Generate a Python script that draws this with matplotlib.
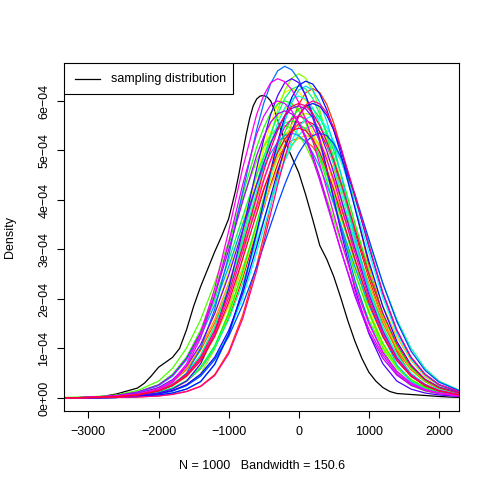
import colorsys

import matplotlib
matplotlib.use("Agg")
import matplotlib.pyplot as plt
import numpy as np
from matplotlib.patches import Rectangle

plt.rcParams["font.family"] = ["Liberation Sans", "DejaVu Sans"]

# density values are given in units of 1e-4
SCALE = 1e-4

# sampling distribution (black curve)
sampling_x = [-3400, -3000, -2800, -2600, -2400, -2300, -2200, -2100, -2000, -1900,
              -1800, -1700, -1600, -1500, -1400, -1300, -1200, -1100, -1000, -900,
              -850, -800, -750, -700, -650, -600, -550, -500, -450, -400,
              -350, -300, -250, -200, -100, 0, 100, 200, 300, 400,
              500, 600, 700, 800, 900, 1000, 1100, 1200, 1300, 1400,
              1600, 1800, 2000, 2200, 2400]
sampling_y = [0.00, 0.01, 0.03, 0.08, 0.16, 0.20, 0.30, 0.45, 0.62, 0.72,
              0.82, 1.00, 1.38, 1.85, 2.25, 2.60, 2.95, 3.27, 3.62, 4.20,
              4.55, 4.95, 5.32, 5.65, 5.90, 6.04, 6.10, 6.11, 6.08, 6.00,
              5.83, 5.62, 5.40, 5.20, 4.87, 4.55, 4.10, 3.60, 3.08, 2.80,
              2.45, 2.02, 1.56, 1.15, 0.80, 0.52, 0.34, 0.21, 0.13, 0.09,
              0.07, 0.05, 0.03, 0.015, 0.01]

# bootstrap densities (coloured curves), all on one grid
boot_x = [-3400, -3000, -2600, -2300, -2000, -1800, -1600, -1400, -1200, -1000,
          -800, -600, -500, -400, -300, -200, -100, 0, 100, 200,
          300, 400, 500, 600, 800, 1000, 1200, 1400, 1600, 1800,
          2000, 2300, 2600]

boot_00 = [0.00, 0.00, 0.02, 0.04, 0.11, 0.19, 0.34, 0.59, 1.00, 1.61,
           2.42, 3.36, 3.84, 4.31, 4.73, 5.10, 5.38, 5.54, 5.60, 5.54,
           5.38, 5.10, 4.73, 4.31, 3.36, 2.42, 1.61, 1.00, 0.59, 0.34,
           0.19, 0.08, 0.03]
boot_01 = [0.00, 0.00, 0.01, 0.02, 0.04, 0.08, 0.13, 0.24, 0.47, 0.93,
           1.67, 2.68, 3.27, 3.88, 4.49, 5.06, 5.55, 5.93, 6.17, 6.25,
           6.17, 5.93, 5.55, 5.06, 3.88, 2.68, 1.67, 0.93, 0.47, 0.24,
           0.13, 0.06, 0.03]
boot_02 = [0.00, 0.01, 0.03, 0.08, 0.19, 0.33, 0.57, 0.96, 1.51, 2.21,
           3.02, 3.84, 4.23, 4.57, 4.86, 5.07, 5.20, 5.25, 5.20, 5.07,
           4.86, 4.57, 4.23, 3.84, 3.02, 2.21, 1.51, 0.96, 0.57, 0.33,
           0.19, 0.08, 0.03]
boot_03 = [0.00, 0.01, 0.03, 0.08, 0.20, 0.34, 0.60, 1.01, 1.58, 2.32,
           3.16, 4.03, 4.43, 4.79, 5.09, 5.31, 5.45, 5.50, 5.45, 5.31,
           5.09, 4.79, 4.43, 4.03, 3.16, 2.32, 1.58, 1.01, 0.60, 0.34,
           0.20, 0.08, 0.03]
boot_04 = [0.00, 0.01, 0.02, 0.06, 0.14, 0.25, 0.43, 0.76, 1.23, 1.86,
           2.63, 3.47, 3.88, 4.27, 4.62, 4.90, 5.12, 5.25, 5.30, 5.25,
           5.12, 4.90, 4.62, 4.27, 3.47, 2.63, 1.86, 1.23, 0.76, 0.43,
           0.25, 0.11, 0.04]
boot_05 = [0.00, 0.01, 0.02, 0.04, 0.10, 0.18, 0.33, 0.67, 1.26, 2.14,
           3.27, 4.49, 5.06, 5.55, 5.93, 6.17, 6.25, 6.19, 6.00, 5.69,
           5.28, 4.81, 4.28, 3.75, 2.70, 1.80, 1.11, 0.66, 0.38, 0.21,
           0.13, 0.05, 0.02]
boot_06 = [0.00, 0.01, 0.04, 0.09, 0.20, 0.35, 0.62, 1.05, 1.70, 2.55,
           3.54, 4.54, 4.99, 5.37, 5.66, 5.84, 5.90, 5.84, 5.66, 5.37,
           4.99, 4.54, 4.04, 3.54, 2.55, 1.70, 1.05, 0.62, 0.35, 0.20,
           0.12, 0.05, 0.02]
boot_07 = [0.00, 0.00, 0.02, 0.05, 0.12, 0.20, 0.35, 0.60, 1.02, 1.66,
           2.48, 3.45, 3.94, 4.43, 4.86, 5.23, 5.52, 5.69, 5.75, 5.69,
           5.52, 5.23, 4.86, 4.43, 3.45, 2.48, 1.66, 1.02, 0.60, 0.35,
           0.20, 0.09, 0.03]
boot_08 = [0.00, 0.01, 0.02, 0.04, 0.08, 0.14, 0.25, 0.49, 0.98, 1.75,
           2.81, 4.07, 4.71, 5.30, 5.82, 6.21, 6.46, 6.55, 6.46, 6.21,
           5.82, 5.30, 4.71, 4.07, 2.81, 1.75, 0.98, 0.49, 0.25, 0.14,
           0.08, 0.04, 0.02]
boot_09 = [0.01, 0.02, 0.06, 0.15, 0.34, 0.60, 1.01, 1.58, 2.32, 3.16,
           4.03, 4.79, 5.09, 5.31, 5.45, 5.50, 5.45, 5.31, 5.09, 4.79,
           4.43, 4.03, 3.60, 3.16, 2.32, 1.58, 1.01, 0.60, 0.34, 0.20,
           0.11, 0.04, 0.02]
boot_10 = [0.00, 0.01, 0.05, 0.12, 0.27, 0.48, 0.83, 1.37, 2.13, 3.09,
           4.11, 5.07, 5.46, 5.76, 5.94, 6.00, 5.95, 5.80, 5.55, 5.23,
           4.83, 4.39, 3.92, 3.45, 2.53, 1.73, 1.10, 0.65, 0.37, 0.22,
           0.12, 0.05, 0.02]
boot_11 = [0.00, 0.00, 0.02, 0.05, 0.12, 0.20, 0.35, 0.62, 1.05, 1.70,
           2.55, 3.54, 4.04, 4.54, 4.99, 5.37, 5.66, 5.84, 5.90, 5.84,
           5.66, 5.37, 4.99, 4.54, 3.54, 2.55, 1.70, 1.05, 0.62, 0.35,
           0.20, 0.09, 0.04]
boot_12 = [0.00, 0.01, 0.04, 0.11, 0.26, 0.46, 0.80, 1.30, 1.97, 2.78,
           3.66, 4.51, 4.88, 5.18, 5.41, 5.55, 5.60, 5.55, 5.41, 5.18,
           4.88, 4.51, 4.10, 3.66, 2.78, 1.97, 1.30, 0.80, 0.46, 0.26,
           0.15, 0.06, 0.03]
boot_13 = [0.00, 0.01, 0.03, 0.07, 0.16, 0.28, 0.50, 0.87, 1.44, 2.24,
           3.24, 4.32, 4.85, 5.32, 5.73, 6.05, 6.24, 6.30, 6.24, 6.05,
           5.73, 5.32, 4.85, 4.32, 3.24, 2.24, 1.44, 0.87, 0.50, 0.28,
           0.16, 0.07, 0.03]
boot_14 = [0.00, 0.01, 0.02, 0.04, 0.11, 0.20, 0.34, 0.60, 1.01, 1.58,
           2.32, 3.16, 3.60, 4.03, 4.43, 4.79, 5.09, 5.31, 5.45, 5.50,
           5.45, 5.31, 5.09, 4.79, 4.03, 3.16, 2.32, 1.58, 1.01, 0.60,
           0.34, 0.15, 0.06]
boot_15 = [0.00, 0.01, 0.03, 0.07, 0.16, 0.27, 0.49, 0.84, 1.39, 2.17,
           3.14, 4.18, 4.70, 5.15, 5.55, 5.86, 6.04, 6.10, 6.04, 5.86,
           5.55, 5.15, 4.70, 4.18, 3.14, 2.17, 1.39, 0.84, 0.49, 0.27,
           0.16, 0.07, 0.03]
boot_16 = [0.00, 0.00, 0.01, 0.03, 0.09, 0.15, 0.26, 0.46, 0.79, 1.30,
           2.02, 2.94, 3.42, 3.90, 4.39, 4.82, 5.19, 5.47, 5.64, 5.70,
           5.64, 5.47, 5.19, 4.82, 3.90, 2.94, 2.02, 1.30, 0.79, 0.46,
           0.26, 0.11, 0.05]
boot_17 = [0.00, 0.00, 0.01, 0.03, 0.06, 0.10, 0.18, 0.33, 0.67, 1.27,
           2.16, 3.29, 3.91, 4.53, 5.10, 5.59, 5.97, 6.22, 6.30, 6.22,
           5.97, 5.59, 5.10, 4.53, 3.29, 2.16, 1.27, 0.67, 0.33, 0.18,
           0.10, 0.04, 0.02]
boot_18 = [0.00, 0.01, 0.04, 0.11, 0.25, 0.44, 0.77, 1.24, 1.88, 2.65,
           3.50, 4.31, 4.66, 4.95, 5.17, 5.30, 5.35, 5.30, 5.17, 4.95,
           4.66, 4.31, 3.92, 3.50, 2.65, 1.88, 1.24, 0.77, 0.44, 0.25,
           0.14, 0.06, 0.02]
boot_19 = [0.00, 0.01, 0.03, 0.06, 0.14, 0.25, 0.50, 1.00, 1.79, 2.87,
           4.16, 5.42, 5.95, 6.35, 6.61, 6.70, 6.63, 6.43, 6.10, 5.66,
           5.16, 4.59, 4.02, 3.45, 2.38, 1.53, 0.92, 0.54, 0.30, 0.17,
           0.10, 0.04, 0.01]
boot_20 = [0.00, 0.00, 0.01, 0.03, 0.08, 0.14, 0.25, 0.44, 0.77, 1.24,
           1.88, 2.65, 3.08, 3.50, 3.92, 4.31, 4.66, 4.95, 5.17, 5.30,
           5.35, 5.30, 5.14, 4.87, 4.12, 3.21, 2.31, 1.54, 0.95, 0.56,
           0.32, 0.14, 0.06]
boot_21 = [0.00, 0.00, 0.01, 0.03, 0.06, 0.10, 0.18, 0.33, 0.68, 1.29,
           2.20, 3.35, 3.97, 4.60, 5.18, 5.68, 6.07, 6.32, 6.40, 6.34,
           6.14, 5.82, 5.41, 4.93, 3.84, 2.76, 1.84, 1.14, 0.67, 0.38,
           0.22, 0.10, 0.04]
boot_22 = [0.00, 0.00, 0.01, 0.04, 0.09, 0.15, 0.27, 0.48, 0.82, 1.36,
           2.11, 3.06, 3.57, 4.08, 4.58, 5.03, 5.41, 5.71, 5.89, 5.95,
           5.89, 5.71, 5.41, 5.03, 4.08, 3.06, 2.11, 1.36, 0.82, 0.48,
           0.27, 0.12, 0.05]
boot_23 = [0.00, 0.01, 0.02, 0.05, 0.10, 0.18, 0.34, 0.69, 1.30, 2.21,
           3.37, 4.64, 5.22, 5.73, 6.11, 6.37, 6.45, 6.37, 6.11, 5.73,
           5.22, 4.64, 4.01, 3.37, 2.21, 1.30, 0.69, 0.34, 0.18, 0.10,
           0.06, 0.03, 0.01]
boot_24 = [0.00, 0.01, 0.04, 0.09, 0.21, 0.37, 0.64, 1.08, 1.70, 2.48,
           3.39, 4.32, 4.75, 5.14, 5.46, 5.70, 5.85, 5.90, 5.84, 5.66,
           5.37, 4.99, 4.54, 4.04, 3.04, 2.09, 1.35, 0.81, 0.47, 0.27,
           0.15, 0.06, 0.03]
boot_25 = [0.00, 0.01, 0.05, 0.12, 0.26, 0.46, 0.80, 1.32, 2.06, 2.99,
           3.97, 4.90, 5.28, 5.57, 5.74, 5.80, 5.74, 5.57, 5.28, 4.90,
           4.47, 3.97, 3.48, 2.99, 2.06, 1.32, 0.80, 0.46, 0.26, 0.15,
           0.09, 0.03, 0.01]
boot_26 = [0.00, 0.01, 0.04, 0.07, 0.17, 0.31, 0.64, 1.21, 2.06, 3.14,
           4.31, 5.33, 5.69, 5.92, 6.00, 5.95, 5.80, 5.55, 5.23, 4.83,
           4.39, 3.92, 3.45, 2.98, 2.11, 1.39, 0.86, 0.49, 0.28, 0.16,
           0.09, 0.04, 0.02]
boot_27 = [0.00, 0.01, 0.04, 0.08, 0.18, 0.34, 0.69, 1.30, 2.21, 3.37,
           4.64, 5.73, 6.11, 6.37, 6.45, 6.39, 6.23, 5.97, 5.62, 5.19,
           4.72, 4.22, 3.71, 3.20, 2.26, 1.50, 0.92, 0.53, 0.30, 0.17,
           0.10, 0.04, 0.02]
boot_28 = [0.00, 0.01, 0.03, 0.06, 0.15, 0.26, 0.46, 0.79, 1.30, 2.02,
           2.94, 3.90, 4.39, 4.82, 5.19, 5.47, 5.64, 5.70, 5.64, 5.47,
           5.19, 4.82, 4.39, 3.90, 2.94, 2.02, 1.30, 0.79, 0.46, 0.26,
           0.15, 0.06, 0.03]
boot_29 = [0.00, 0.00, 0.01, 0.02, 0.04, 0.07, 0.13, 0.23, 0.45, 0.89,
           1.60, 2.57, 3.14, 3.73, 4.31, 4.85, 5.33, 5.69, 5.92, 6.00,
           5.94, 5.76, 5.46, 5.07, 4.11, 3.09, 2.13, 1.37, 0.83, 0.48,
           0.27, 0.12, 0.05]
boot_30 = [0.00, 0.01, 0.03, 0.07, 0.15, 0.27, 0.48, 0.82, 1.36, 2.11,
           3.06, 4.08, 4.58, 5.03, 5.41, 5.71, 5.89, 5.95, 5.90, 5.75,
           5.50, 5.18, 4.79, 4.36, 3.42, 2.50, 1.71, 1.09, 0.65, 0.37,
           0.21, 0.09, 0.04]
boot_31 = [0.00, 0.01, 0.02, 0.06, 0.14, 0.25, 0.44, 0.75, 1.24, 1.93,
           2.81, 3.73, 4.20, 4.61, 4.96, 5.23, 5.40, 5.45, 5.40, 5.23,
           4.96, 4.61, 4.20, 3.73, 2.81, 1.93, 1.24, 0.75, 0.44, 0.25,
           0.14, 0.06, 0.02]

boot_curves = [boot_00, boot_01, boot_02, boot_03, boot_04, boot_05, boot_06,
               boot_07, boot_08, boot_09, boot_10, boot_11, boot_12, boot_13,
               boot_14, boot_15, boot_16, boot_17, boot_18, boot_19, boot_20,
               boot_21, boot_22, boot_23, boot_24, boot_25, boot_26, boot_27,
               boot_28, boot_29, boot_30, boot_31]

x_ticks = [-3000, -2000, -1000, 0, 1000, 2000]
y_ticks = [0, 1, 2, 3, 4, 5, 6]
y_tick_labels = ["0e+00", "1e\u221204", "2e\u221204", "3e\u221204",
                 "4e\u221204", "5e\u221204", "6e\u221204"]
legend_label = "sampling distribution"
x_label = "N = 1000   Bandwidth = 150.6"
y_label = "Density"


def rainbow(n):
    # same hue spacing as R's rainbow()
    return [colorsys.hsv_to_rgb(i / n, 1.0, 1.0) for i in range(n)]


fig = plt.figure(figsize=(4.91, 4.91), dpi=100)
ax = fig.add_axes([0.131, 0.163, 0.804, 0.708])

ax.axhline(0, color="#d0d0d0", lw=0.5, zorder=0)
ax.plot(sampling_x, np.array(sampling_y) * SCALE, color="black", lw=0.9)

for y, col in zip(boot_curves, rainbow(len(boot_curves))):
    ax.plot(boot_x, np.array(y) * SCALE, color=col, lw=0.9)

ax.set_xlim(-3344, 2287)
ax.set_ylim(-0.263e-4, 6.76e-4)

ax.set_xticks(x_ticks)
ax.set_xticklabels([str(v).replace("-", "\u2212") for v in x_ticks])
ax.set_yticks(np.array(y_ticks) * SCALE)
ax.set_yticklabels(y_tick_labels, rotation=90, va="center")
ax.tick_params(direction="out", length=5, width=0.8, labelsize=9, pad=6)
ax.tick_params(axis="y", pad=5)
for sp in ax.spines.values():
    sp.set_linewidth(0.8)

# legend box in the top-left corner, drawn like R's legend()
ax.add_patch(Rectangle((0, 0.9117), 0.4274, 0.0883, transform=ax.transAxes,
                       facecolor="white", edgecolor="black", lw=0.8, zorder=5))
ax.plot([0.0271, 0.0904], [0.9548, 0.9548], transform=ax.transAxes,
        color="black", lw=0.9, zorder=6)
ax.text(0.1183, 0.9548, legend_label, transform=ax.transAxes,
        fontsize=9, va="center", ha="left", zorder=6)

fig.text(10 / 491, 1 - 237 / 491, y_label, rotation=90, fontsize=9,
         ha="center", va="center")
fig.text(261.7 / 491, 1 - 466 / 491, x_label, fontsize=9,
         ha="center", va="center")

fig.savefig("out.png", dpi=100)
